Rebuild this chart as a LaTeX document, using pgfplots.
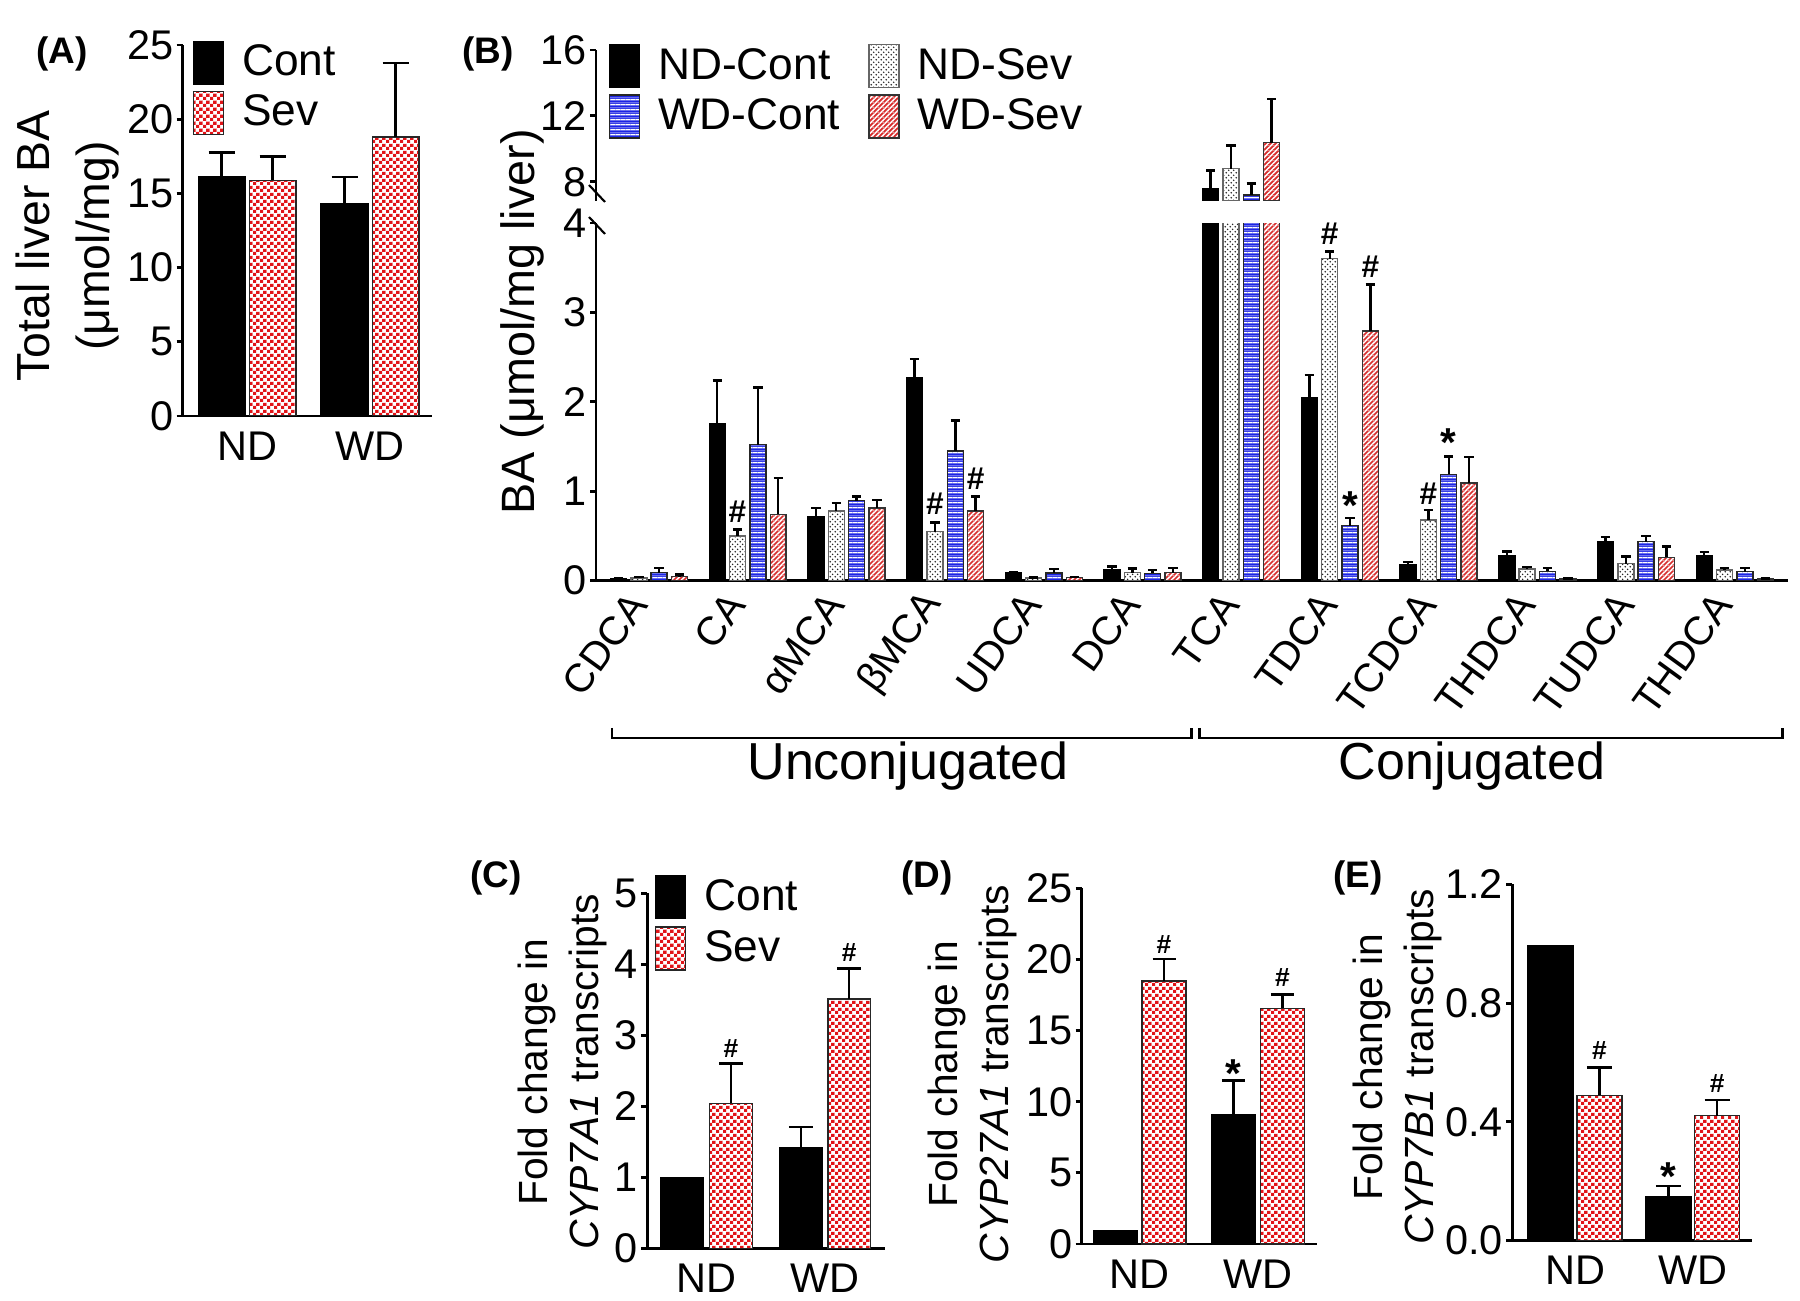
\documentclass[border=0pt]{standalone}
\usepackage{pgfplots}
\usepackage{pgfplotstable}
\pgfplotsset{compat=1.18}
\usepackage{fontspec}
\setmainfont{Liberation Sans}
\usetikzlibrary{patterns}

\definecolor{sevred}{RGB}{225,20,24}
\definecolor{wdblue}{RGB}{28,36,228}
\definecolor{hatchred}{RGB}{215,45,45}

\pgfdeclarepatterninherentlycolored{redcheck}{\pgfpointorigin}{\pgfqpoint{2pt}{2pt}}{\pgfqpoint{2pt}{2pt}}{%
  \pgfsetfillcolor{white}%
  \pgfpathrectangle{\pgfpointorigin}{\pgfqpoint{2pt}{2pt}}\pgfusepath{fill}%
  \pgfsetfillcolor{sevred}%
  \pgfpathrectangle{\pgfpointorigin}{\pgfqpoint{1pt}{1pt}}%
  \pgfpathrectangle{\pgfqpoint{1pt}{1pt}}{\pgfqpoint{1pt}{1pt}}%
  \pgfusepath{fill}%
}
\pgfdeclarepatterninherentlycolored{ndots}{\pgfpointorigin}{\pgfqpoint{1.4pt}{1.4pt}}{\pgfqpoint{1.4pt}{1.4pt}}{%
  \pgfsetfillcolor{white}%
  \pgfpathrectangle{\pgfpointorigin}{\pgfqpoint{1.4pt}{1.4pt}}\pgfusepath{fill}%
  \pgfsetfillcolor{black!85}%
  \pgfpathcircle{\pgfqpoint{0.35pt}{0.35pt}}{0.24pt}%
  \pgfpathcircle{\pgfqpoint{1.05pt}{1.05pt}}{0.24pt}%
  \pgfusepath{fill}%
}
\pgfdeclarepatterninherentlycolored{bluestripes}{\pgfpointorigin}{\pgfqpoint{1.5pt}{1.5pt}}{\pgfqpoint{1.5pt}{1.5pt}}{%
  \pgfsetfillcolor{wdblue}%
  \pgfpathrectangle{\pgfpointorigin}{\pgfqpoint{1.5pt}{1.5pt}}\pgfusepath{fill}%
  \pgfsetfillcolor{white}%
  \pgfpathrectangle{\pgfqpoint{0pt}{0.5pt}}{\pgfqpoint{1.5pt}{0.5pt}}\pgfusepath{fill}%
}
\pgfdeclarepatterninherentlycolored{redhatch}{\pgfpointorigin}{\pgfqpoint{1.5pt}{1.5pt}}{\pgfqpoint{1.5pt}{1.5pt}}{%
  \pgfsetfillcolor{white}%
  \pgfpathrectangle{\pgfpointorigin}{\pgfqpoint{1.5pt}{1.5pt}}\pgfusepath{fill}%
  \pgfsetfillcolor{hatchred}%
  \pgfpathmoveto{\pgfqpoint{0pt}{0pt}}\pgfpathlineto{\pgfqpoint{0.4pt}{0pt}}\pgfpathlineto{\pgfqpoint{1.5pt}{1.1pt}}%
  \pgfpathlineto{\pgfqpoint{1.5pt}{1.5pt}}\pgfpathlineto{\pgfqpoint{1.1pt}{1.5pt}}\pgfpathlineto{\pgfqpoint{0pt}{0.4pt}}\pgfpathclose
  \pgfpathmoveto{\pgfqpoint{1.1pt}{0pt}}\pgfpathlineto{\pgfqpoint{1.5pt}{0pt}}\pgfpathlineto{\pgfqpoint{1.5pt}{0.4pt}}\pgfpathclose
  \pgfpathmoveto{\pgfqpoint{0pt}{1.1pt}}\pgfpathlineto{\pgfqpoint{0pt}{1.5pt}}\pgfpathlineto{\pgfqpoint{0.4pt}{1.5pt}}\pgfpathclose
  \pgfusepath{fill}%
}

\pgfplotsset{
  base/.style={
    scale only axis, axis lines*=left,
    axis line style={line width=0.8pt, black},
    tick style={line width=0.8pt, black},
    tick align=outside, major tick length=0.6mm,
    xtick style={draw=none},
    clip mode=individual,
    scaled y ticks=false,
    tick label style={font=\fontsize{11.8}{13}\selectfont},
    /pgf/number format/assume math mode=true,
    yticklabel style={inner sep=0.8pt},
    xticklabel style={inner sep=0pt, yshift=-0.9mm},
    legend cell align=left,
    legend style={draw=none, fill=none, inner sep=0pt, outer sep=0pt, row sep=0.55mm,
      font=\fontsize{12.6}{14}\selectfont, anchor=north west, nodes={inner sep=0pt},
      /tikz/every odd column/.append style={column sep=1.8mm}},
  },
  sw/.style={legend image code/.code={\draw[##1] (0mm,-2.15mm) rectangle (3mm,2.15mm);}},
  pCont/.style={ybar, bar shift=0pt, fill=black, draw=black, line width=0.4pt, sw},
  pSev/.style={ybar, bar shift=0pt, pattern=redcheck, draw=black!85, line width=0.4pt, sw},
  pNDS/.style={ybar, bar shift=0pt, pattern=ndots, draw=black!60, line width=0.4pt, sw},
  pWDC/.style={ybar, bar shift=0pt, pattern=bluestripes, draw=black!85, line width=0.4pt, sw},
  pWDS/.style={ybar, bar shift=0pt, pattern=redhatch, draw=black!80, line width=0.4pt, sw},
  eb/.style={error bars/.cd, y dir=plus, y explicit,
    error bar style={line width=0.7pt, black, solid},
    error mark options={rotate=90, line width=0.7pt, black, mark size=#1}},
}
\tikzset{
  annH/.style={font=\bfseries\fontsize{9}{10}\selectfont, inner sep=0pt},
  annS/.style={font=\bfseries\fontsize{11.5}{12}\selectfont, inner sep=0pt},
  annh/.style={font=\bfseries\fontsize{7.5}{8}\selectfont, inner sep=0pt},
  ylab/.style={rotate=90, align=center, inner sep=0pt},
  plab/.style={font=\bfseries\fontsize{10.5}{12}\selectfont, inner sep=0pt},
}

% Panel B data: x = group index, y = mean, e = upper error
\pgfplotstableread{
x y e
0 0.02 0.01
1 1.75 0.49
2 0.716 0.094
3 2.27 0.21
4 0.085 0.012
5 0.12 0.04
6 7.60 1.07
7 2.05 0.25
8 0.18 0.03
9 0.28 0.045
10 0.44 0.045
11 0.28 0.04
}\tbNDC
\pgfplotstableread{
x y e
0 0.03 0.01
1 0.50 0.07
2 0.78 0.09
3 0.548 0.10
4 0.03 0.006
5 0.09 0.045
6 8.79 1.40
7 3.60 0.08
8 0.68 0.11
9 0.13 0.02
10 0.19 0.08
11 0.12 0.02
}\tbNDS
\pgfplotstableread{
x y e
0 0.09 0.05
1 1.52 0.64
2 0.895 0.045
3 1.45 0.34
4 0.085 0.045
5 0.08 0.04
6 7.20 0.68
7 0.615 0.085
8 1.19 0.20
9 0.104 0.036
10 0.436 0.064
11 0.10 0.04
}\tbWDC
\pgfplotstableread{
x y e
0 0.045 0.025
1 0.74 0.41
2 0.81 0.09
3 0.78 0.16
4 0.035 0.006
5 0.09 0.05
6 10.37 2.65
7 2.79 0.52
8 1.09 0.29
9 0.02 0.005
10 0.26 0.12
11 0.02 0.005
}\tbWDS

\begin{document}
\begin{tikzpicture}
\useasboundingbox (0,0) rectangle (180mm,130.1mm);

% ---------------- Panel A ----------------
\begin{axis}[base, at={(18.27mm,88.5mm)}, anchor=south west, width=24.9mm, height=37.1mm,
  xmin=-0.525, xmax=1.502, ymin=0, ymax=25, ytick={0,5,10,15,20,25},
  xtick={0,1}, xticklabels={ND,WD},
  legend style={at={(0.040,1.0116)}}]
\addplot[pCont, bar width=0.38, eb=1.3mm] coordinates {(-0.2077,16.1) +- (0,1.65) (0.7923,14.3) +- (0,1.8)};
\addplot[pSev, bar width=0.38, eb=1.3mm] coordinates {(0.2077,15.88) +- (0,1.62) (1.2077,18.8) +- (0,5.0)};
\legend{Cont,Sev}
\end{axis}
\node[plab] at (6.2mm,124.7mm) {(A)};
\node[ylab, font=\fontsize{13.2}{16.8}\selectfont] at (6.75mm,105.5mm) {Total liver BA\\(μmol/mg)};

% ---------------- Panel B (lower) ----------------
\begin{axis}[base, at={(59.6mm,72.04mm)}, anchor=south west, width=119.2mm, height=35.76mm,
  xmin=-0.537, xmax=11.54, ymin=0, ymax=4, ytick={0,1,2,3,4},
  xtick={0,...,11},
  xticklabels={CDCA,CA,αMCA,βMCA,UDCA,DCA,TCA,TDCA,TCDCA,THDCA,TUDCA,THDCA},
  xticklabel style={font=\fontsize{11.4}{12}\selectfont, inner sep=0pt, xshift=-1.1mm, yshift=-0.2mm, rotate=54, anchor=east}]
\addplot[pCont, bar width=0.162, eb=0.47mm] table[x expr=\thisrow{x}-0.309, y=y, y error=e] {\tbNDC};
\addplot[pNDS, bar width=0.162, eb=0.47mm] table[x expr=\thisrow{x}-0.103, y=y, y error=e] {\tbNDS};
\addplot[pWDC, bar width=0.162, eb=0.47mm] table[x expr=\thisrow{x}+0.103, y=y, y error=e] {\tbWDC};
\addplot[pWDS, bar width=0.162, eb=0.47mm] table[x expr=\thisrow{x}+0.309, y=y, y error=e] {\tbWDS};
\node[annH] at (axis cs:0.897,0.77) {\#};
\node[annH] at (axis cs:2.897,0.857) {\#};
\node[annH] at (axis cs:3.309,1.136) {\#};
\node[annH] at (axis cs:6.897,3.88) {\#};
\node[annH] at (axis cs:7.309,3.51) {\#};
\node[annS] at (axis cs:7.103,0.84) {*};
\node[annH] at (axis cs:7.897,0.97) {\#};
\node[annS] at (axis cs:8.103,1.54) {*};
\end{axis}

% ---------------- Panel B (upper, TCA only) ----------------
\begin{axis}[base, at={(59.6mm,110.03mm)}, anchor=south west, width=119.2mm, height=15.07mm,
  axis x line=none, axis y line*=left,
  xmin=-0.537, xmax=11.54, ymin=6.85, ymax=16, ytick={8,12,16}, xtick=\empty,
  legend columns=2,
  legend style={at={(0.01065,1.0398)}, row sep=0.6mm,
    /tikz/every even column/.append style={column sep=2.8mm}}]
\addplot[pCont, bar width=0.162, eb=0.47mm] coordinates {(5.691,7.60) +- (0,1.07)};
\addplot[pNDS, bar width=0.162, eb=0.47mm] coordinates {(5.897,8.79) +- (0,1.40)};
\addplot[pWDC, bar width=0.162, eb=0.47mm] coordinates {(6.103,7.20) +- (0,0.68)};
\addplot[pWDS, bar width=0.162, eb=0.47mm] coordinates {(6.309,10.37) +- (0,2.65)};
\legend{ND-Cont,ND-Sev,WD-Cont,WD-Sev}
\end{axis}
% axis break marks
\draw[line width=0.6pt] (58.9mm,111.6mm) -- (60.5mm,109.9mm);
\draw[line width=0.6pt] (58.9mm,108.4mm) -- (60.5mm,106.7mm);
\node[plab] at (48.8mm,124.7mm) {(B)};
\node[ylab, font=\fontsize{13.3}{15}\selectfont] at (52.2mm,97.9mm) {BA (μmol/mg liver)};
% group brackets
\draw[line width=0.85pt] (61.2mm,57.3mm) -- (61.2mm,56.3mm) -- (119.1mm,56.3mm) -- (119.1mm,57.3mm);
\draw[line width=0.85pt] (119.9mm,57.3mm) -- (119.9mm,56.3mm) -- (178.2mm,56.3mm) -- (178.2mm,57.3mm);
\node[font=\fontsize{14.8}{16}\selectfont] at (90.8mm,53.5mm) {Unconjugated};
\node[font=\fontsize{14.8}{16}\selectfont] at (147.2mm,53.5mm) {Conjugated};

% ---------------- Panel C ----------------
\begin{axis}[base, at={(64.73mm,5.27mm)}, anchor=south west, width=23.77mm, height=35.5mm,
  xmin=-0.502, xmax=1.507, ymin=0, ymax=5, ytick={0,1,2,3,4,5},
  xtick={0,1}, xticklabels={ND,WD},
  legend style={at={(0.0324,1.0515)}, row sep=0.67mm}]
\addplot[pCont, bar width=0.36] coordinates {(-0.205,1.0) (0.795,1.42)};
\addplot[pSev, bar width=0.36, eb=1.2mm] coordinates {(0.205,2.04) +- (0,0.56) (1.205,3.51) +- (0,0.43)};
\addplot[draw=none, forget plot, eb=1.2mm] coordinates {(0.795,1.42) +- (0,0.29)};
\legend{Cont,Sev}
\node[annh] at (axis cs:0.205,2.81) {\#};
\node[annh] at (axis cs:1.205,4.16) {\#};
\end{axis}
\node[plab] at (49.6mm,42.3mm) {(C)};
\node[ylab, font=\fontsize{11.6}{14.5}\selectfont] at (56.2mm,22.9mm) {Fold change in\\\textit{CYP7A1} transcripts};

% ---------------- Panel D ----------------
\begin{axis}[base, at={(108.17mm,5.7mm)}, anchor=south west, width=23.5mm, height=35.57mm,
  xmin=-0.49, xmax=1.497, ymin=0, ymax=25, ytick={0,5,10,15,20,25},
  xtick={0,1}, xticklabels={ND,WD}]
\addplot[pCont, bar width=0.372] coordinates {(-0.2065,0.95) (0.7935,9.11)};
\addplot[draw=none, forget plot, eb=1.15mm] coordinates {(0.7935,9.11) +- (0,2.37)};
\addplot[pSev, bar width=0.372, eb=1.15mm] coordinates {(0.2065,18.48) +- (0,1.54) (1.2065,16.56) +- (0,0.98)};
\node[annh] at (axis cs:0.2065,21.08) {\#};
\node[annS] at (axis cs:0.7935,12.0) {*};
\node[annh] at (axis cs:1.2065,18.73) {\#};
\end{axis}
\node[plab] at (92.7mm,42.3mm) {(D)};
\node[ylab, font=\fontsize{11.6}{14.5}\selectfont] at (97.2mm,22.7mm) {Fold change in\\\textit{CYP27A1} transcripts};

% ---------------- Panel E ----------------
\begin{axis}[base, at={(151.23mm,6.03mm)}, anchor=south west, width=24.0mm, height=35.64mm,
  xmin=-0.533, xmax=1.506, ymin=0, ymax=1.2, ytick={0,0.4,0.8,1.2},
  yticklabel style={/pgf/number format/fixed, /pgf/number format/fixed zerofill, /pgf/number format/precision=1},
  xtick={0,1}, xticklabels={ND,WD}]
\addplot[pCont, bar width=0.382] coordinates {(-0.207,0.9935) (0.793,0.148)};
\addplot[draw=none, forget plot, eb=1.25mm] coordinates {(0.793,0.148) +- (0,0.037)};
\addplot[pSev, bar width=0.382, eb=1.25mm] coordinates {(0.207,0.489) +- (0,0.094) (1.207,0.421) +- (0,0.053)};
\node[annh] at (axis cs:0.207,0.639) {\#};
\node[annS] at (axis cs:0.793,0.215) {*};
\node[annh] at (axis cs:1.207,0.5276) {\#};
\end{axis}
\node[plab] at (135.8mm,42.3mm) {(E)};
\node[ylab, font=\fontsize{11.6}{14.5}\selectfont] at (139.7mm,23.4mm) {Fold change in\\\textit{CYP7B1} transcripts};
\end{tikzpicture}
\end{document}
